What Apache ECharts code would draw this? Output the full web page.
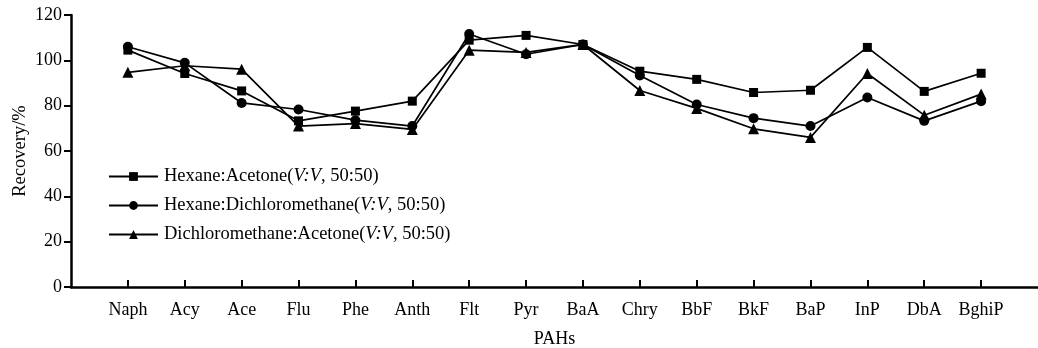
<!DOCTYPE html>
<html><head><meta charset="utf-8">
<script src="https://cdn.jsdelivr.net/npm/echarts@6/dist/echarts.min.js"></script>
<style>html,body{margin:0;padding:0;background:#fff}#c{width:1038px;height:348px}</style>
</head><body><div id="c"></div>
<script>
const categories = ['Naph','Acy','Ace','Flu','Phe','Anth','Flt','Pyr','BaA','Chry','BbF','BkF','BaP','InP','DbA','BghiP'];
const hexaneAcetone = [104.5, 94.2, 86.5, 73.3, 77.6, 82.0, 108.9, 111.0, 107.0, 95.2, 91.6, 85.8, 86.8, 105.7, 86.3, 94.3];
const hexaneDCM     = [106.0, 98.9, 81.2, 78.3, 73.6, 71.0, 111.6, 102.7, 107.0, 93.3, 80.5, 74.5, 71.0, 83.6, 73.3, 82.0];
const dcmAcetone    = [94.7, 97.6, 96.1, 71.0, 72.1, 69.5, 104.5, 103.5, 107.0, 86.7, 78.8, 69.8, 66.0, 94.2, 75.8, 85.1];
const seriesNames = ['Hexane:Acetone', 'Hexane:Dichloromethane', 'Dichloromethane:Acetone'];
const yTicks = [0, 20, 40, 60, 80, 100, 120];

const font = 'Liberation Serif';
const cats = [''].concat(categories, ['']);
const pad = d => [null].concat(d, [null]);
const chart = echarts.init(document.getElementById('c'));
const mk = (name, data, symbol, size) => ({
  name, type: 'line', data: pad(data), symbol, symbolSize: size,
  itemStyle: {color: '#000'}, lineStyle: {color: '#000', width: 1.7},
  animation: false
});
chart.setOption({
  animation: false,
  grid: {left: 71, right: 0, top: 15, bottom: 61, containLabel: false, outerBoundsMode: 'none'},
  legend: {
    orient: 'vertical', left: 103, top: 162, itemGap: 10, itemWidth: 49, itemHeight: 11,
    data: seriesNames,
    formatter: n => n + '({i|V:V}, 50:50)',
    textStyle: {fontFamily: font, fontSize: 18.5, color: '#000', padding: [0,0,0,1],
      rich: {i: {fontFamily: font, fontStyle: 'italic', fontSize: 18.5, color: '#000'}}}
  },
  xAxis: {
    type: 'category', data: cats, boundaryGap: false,
    name: 'PAHs', nameLocation: 'middle', nameGap: 43,
    nameTextStyle: {fontFamily: font, fontSize: 18, color: '#000'},
    axisLine: {lineStyle: {color: '#000', width: 2.5}},
    axisTick: {inside: true, length: 7, lineStyle: {color: '#000', width: 2},
      interval: (i) => i > 0 && i < cats.length - 1},
    axisLabel: {fontFamily: font, fontSize: 18, color: '#000', margin: 14, interval: 0},
    splitLine: {show: false}
  },
  yAxis: {
    type: 'value', min: yTicks[0], max: yTicks[yTicks.length-1], interval: 20,
    name: 'Recovery/%', nameLocation: 'middle', nameGap: 41, nameMoveOverlap: false,
    nameTextStyle: {fontFamily: font, fontSize: 18.5, color: '#000'},
    axisLine: {show: true, lineStyle: {color: '#000', width: 2.5}},
    axisTick: {show: true, inside: false, length: 7, lineStyle: {color: '#000', width: 2}},
    axisLabel: {fontFamily: font, fontSize: 18, color: '#000', margin: 9},
    splitLine: {show: false}
  },
  series: [
    mk(seriesNames[0], hexaneAcetone, 'rect', 9),
    mk(seriesNames[1], hexaneDCM, 'circle', 10),
    mk(seriesNames[2], dcmAcetone, 'triangle', 11)
  ]
});
</script></body></html>
